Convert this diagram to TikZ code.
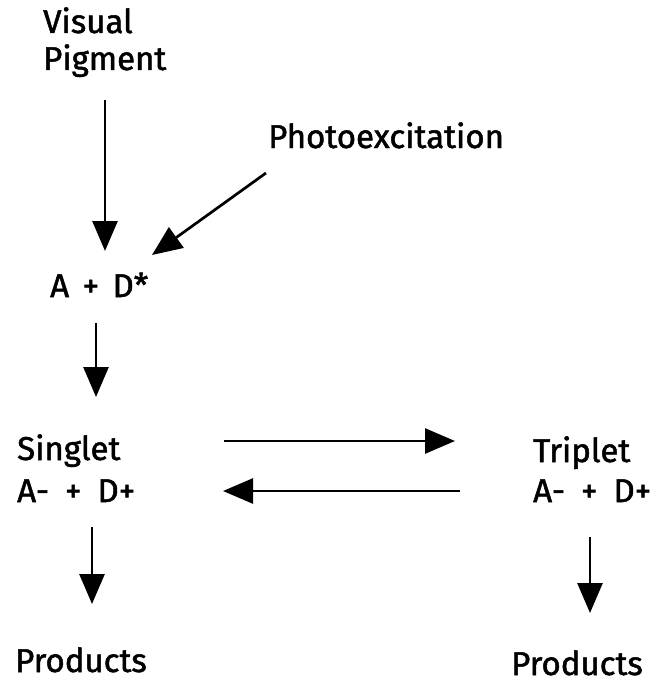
\documentclass[tikz,border=0pt]{standalone}
\usepackage{fontspec}
\setmainfont{Fira Sans}[FakeBold=1.5]
\usetikzlibrary{arrows.meta}
\newcommand{\wgap}{\hspace{16pt}}
\newcommand{\ngap}{\hspace{13.5pt}}
\begin{document}
\begin{tikzpicture}[x=1pt,y=-1pt,
  lbl/.style={anchor=base west, inner sep=0pt, font=\fontsize{33}{38}\selectfont},
  arr/.style={line width=2.7pt, -{Triangle[length=30pt,width=25pt]}}]
\useasboundingbox (0,0) rectangle (665,682);
\node[lbl] (vis) at (43,33) {Visual};
\node[lbl] (pig) at (43,70) {Pigment};
\node[lbl] (pho) at (268,148) {Photoexcitation};
\node[lbl] (ad) at (50,297) {A\ngap+\ngap D*};
\node[lbl] (sing) at (17,460) {Singlet};
\node[lbl] (sad) at (17,502) {A-\wgap+\wgap D+};
\node[lbl] (trip) at (533,462) {Triplet};
\node[lbl] (tad) at (533,502) {A-\wgap+\wgap D+};
\node[lbl] (prl) at (15,672) {Products};
\node[lbl] (prr) at (511,675) {Products};
\coordinate (a1s) at (105,100); \coordinate (a1e) at (105,251);
\coordinate (a2s) at (266,173); \coordinate (a2e) at (152,255);
\coordinate (a3s) at (96,323);  \coordinate (a3e) at (96,397);
\coordinate (a4s) at (224,441); \coordinate (a4e) at (455,441);
\coordinate (a5s) at (460,491); \coordinate (a5e) at (223,491);
\coordinate (a6s) at (92,527);  \coordinate (a6e) at (92,604);
\coordinate (a7s) at (590,537); \coordinate (a7e) at (590,613);
\draw[arr] (a1s) -- (a1e);
\draw[arr] (a2s) -- (a2e);
\draw[arr] (a3s) -- (a3e);
\draw[arr] (a4s) -- (a4e);
\draw[arr] (a5s) -- (a5e);
\draw[arr] (a6s) -- (a6e);
\draw[arr] (a7s) -- (a7e);
\end{tikzpicture}
\end{document}
